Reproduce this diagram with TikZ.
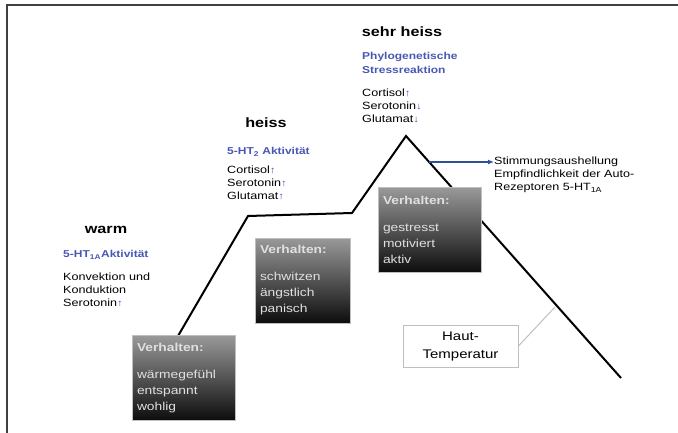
\documentclass[tikz,border=0pt]{standalone}
\usepackage{fontspec}
\setmainfont{Liberation Sans}[FakeStretch=1.2]
\usetikzlibrary{positioning}
\usetikzlibrary{arrows.meta}

\definecolor{hblue}{RGB}{72,88,178}
\definecolor{arrblue}{RGB}{45,80,150}
\newcommand{\arrup}{\textcolor{hblue}{\fontsize{9.5}{9.5}\selectfont\bfseries↑}}
\newcommand{\arrdn}{\textcolor{hblue}{\fontsize{9.5}{9.5}\selectfont\bfseries↓}}

\tikzset{
  head/.style={font=\fontsize{13.5}{15}\selectfont\bfseries, inner sep=0pt},
  bluetxt/.style={font=\fontsize{10}{14}\selectfont\bfseries, text=hblue, inner sep=0pt, align=left},
  bodytxt/.style={font=\fontsize{10.5}{13}\selectfont, inner sep=0pt, align=left},
  verhbox/.style={rectangle, draw=black!25, top color=black!40, bottom color=black!95,
    text=white!88!black, font=\fontsize{11.5}{16}\selectfont, align=left,
    inner xsep=5pt, minimum height=85pt},
  hautbox/.style={rectangle, draw=black!25, line width=1pt, fill=white, align=center,
    font=\fontsize{12.5}{18}\selectfont, minimum width=115pt, minimum height=42pt}
}

\begin{document}
\begin{tikzpicture}[x=1pt, y=-1pt]
        \useasboundingbox (0,0) rectangle (678,433);
        % frame
        \draw[line width=1.5pt, black!75] (7,433) -- (7,5) -- (678,5);

        % temperature curve
        \coordinate (c0) at (178,336);
        \coordinate (c1) at (248,216);
        \coordinate (c2) at (352,213);
        \coordinate (peak) at (406,136);
        \coordinate (c4) at (621,378);
        \coordinate (arrstart) at (429,162);
        \coordinate (hconn) at (555,307);
        \draw[line width=2pt] (c0) -- (c1) -- (c2) -- (peak) -- (c4);

        % warm
        \node[head] (warm) at (106,230) {warm};
        \node[bluetxt, anchor=west] (warmakt) at (63,255) {5-HT\textsubscript{1A}Aktivität};
        \node[bodytxt, anchor=north west] (warmtxt) at (63,273) {Konvektion und\\Konduktion\\Serotonin\arrup};

        % heiss
        \node[head] (heiss) at (266,123) {heiss};
        \node[bluetxt, anchor=west] (heissakt) at (227,152) {5-HT\textsubscript{2} Aktivität};
        \node[bodytxt, anchor=north west] (heisstxt) at (227,166) {Cortisol\arrup\\Serotonin\arrup\\Glutamat\arrup};

        % sehr heiss
        \node[head] (sehrheiss) at (402,32) {sehr heiss};
        \node[bluetxt, anchor=north west] (stress) at (362,52) {Phylogenetische\\Stressreaktion};
        \node[bodytxt, anchor=north west] (sehrtxt) at (362,89) {Cortisol\arrup\\Serotonin\arrdn\\Glutamat\arrdn};

        % Stimmung
        \node[bodytxt, anchor=west] (stim) at (494,162) {Stimmungsaushellung};
        \node[bodytxt, anchor=north west] (empf) at ([yshift=-3pt]stim.south west) {Empfindlichkeit der Auto-\\Rezeptoren 5-HT\textsubscript{1A}};
        \draw[-{Latex[length=6pt,width=5pt]}, arrblue, line width=1.3pt] (arrstart) -- (stim.west);

        % Verhalten boxes
        \node[verhbox, text width=93pt] (box1) at (183.5,378) {\textbf{Verhalten:}\\[11pt]wärmegefühl\\entspannt\\wohlig};
        \node[verhbox, text width=85pt] (box2) at (302.5,280.5) {\textbf{Verhalten:}\\[11pt]schwitzen\\ängstlich\\panisch};
        \node[verhbox, text width=93pt] (box3) at (429.5,230) {\textbf{Verhalten:}\\[11pt]gestresst\\motiviert\\aktiv};

        % Haut-Temperatur
        \node[hautbox] (haut) at (460.5,346) {Haut-\\Temperatur};
        \draw[black!25, line width=1pt] (haut.east) -- (hconn);
\end{tikzpicture}
\end{document}
